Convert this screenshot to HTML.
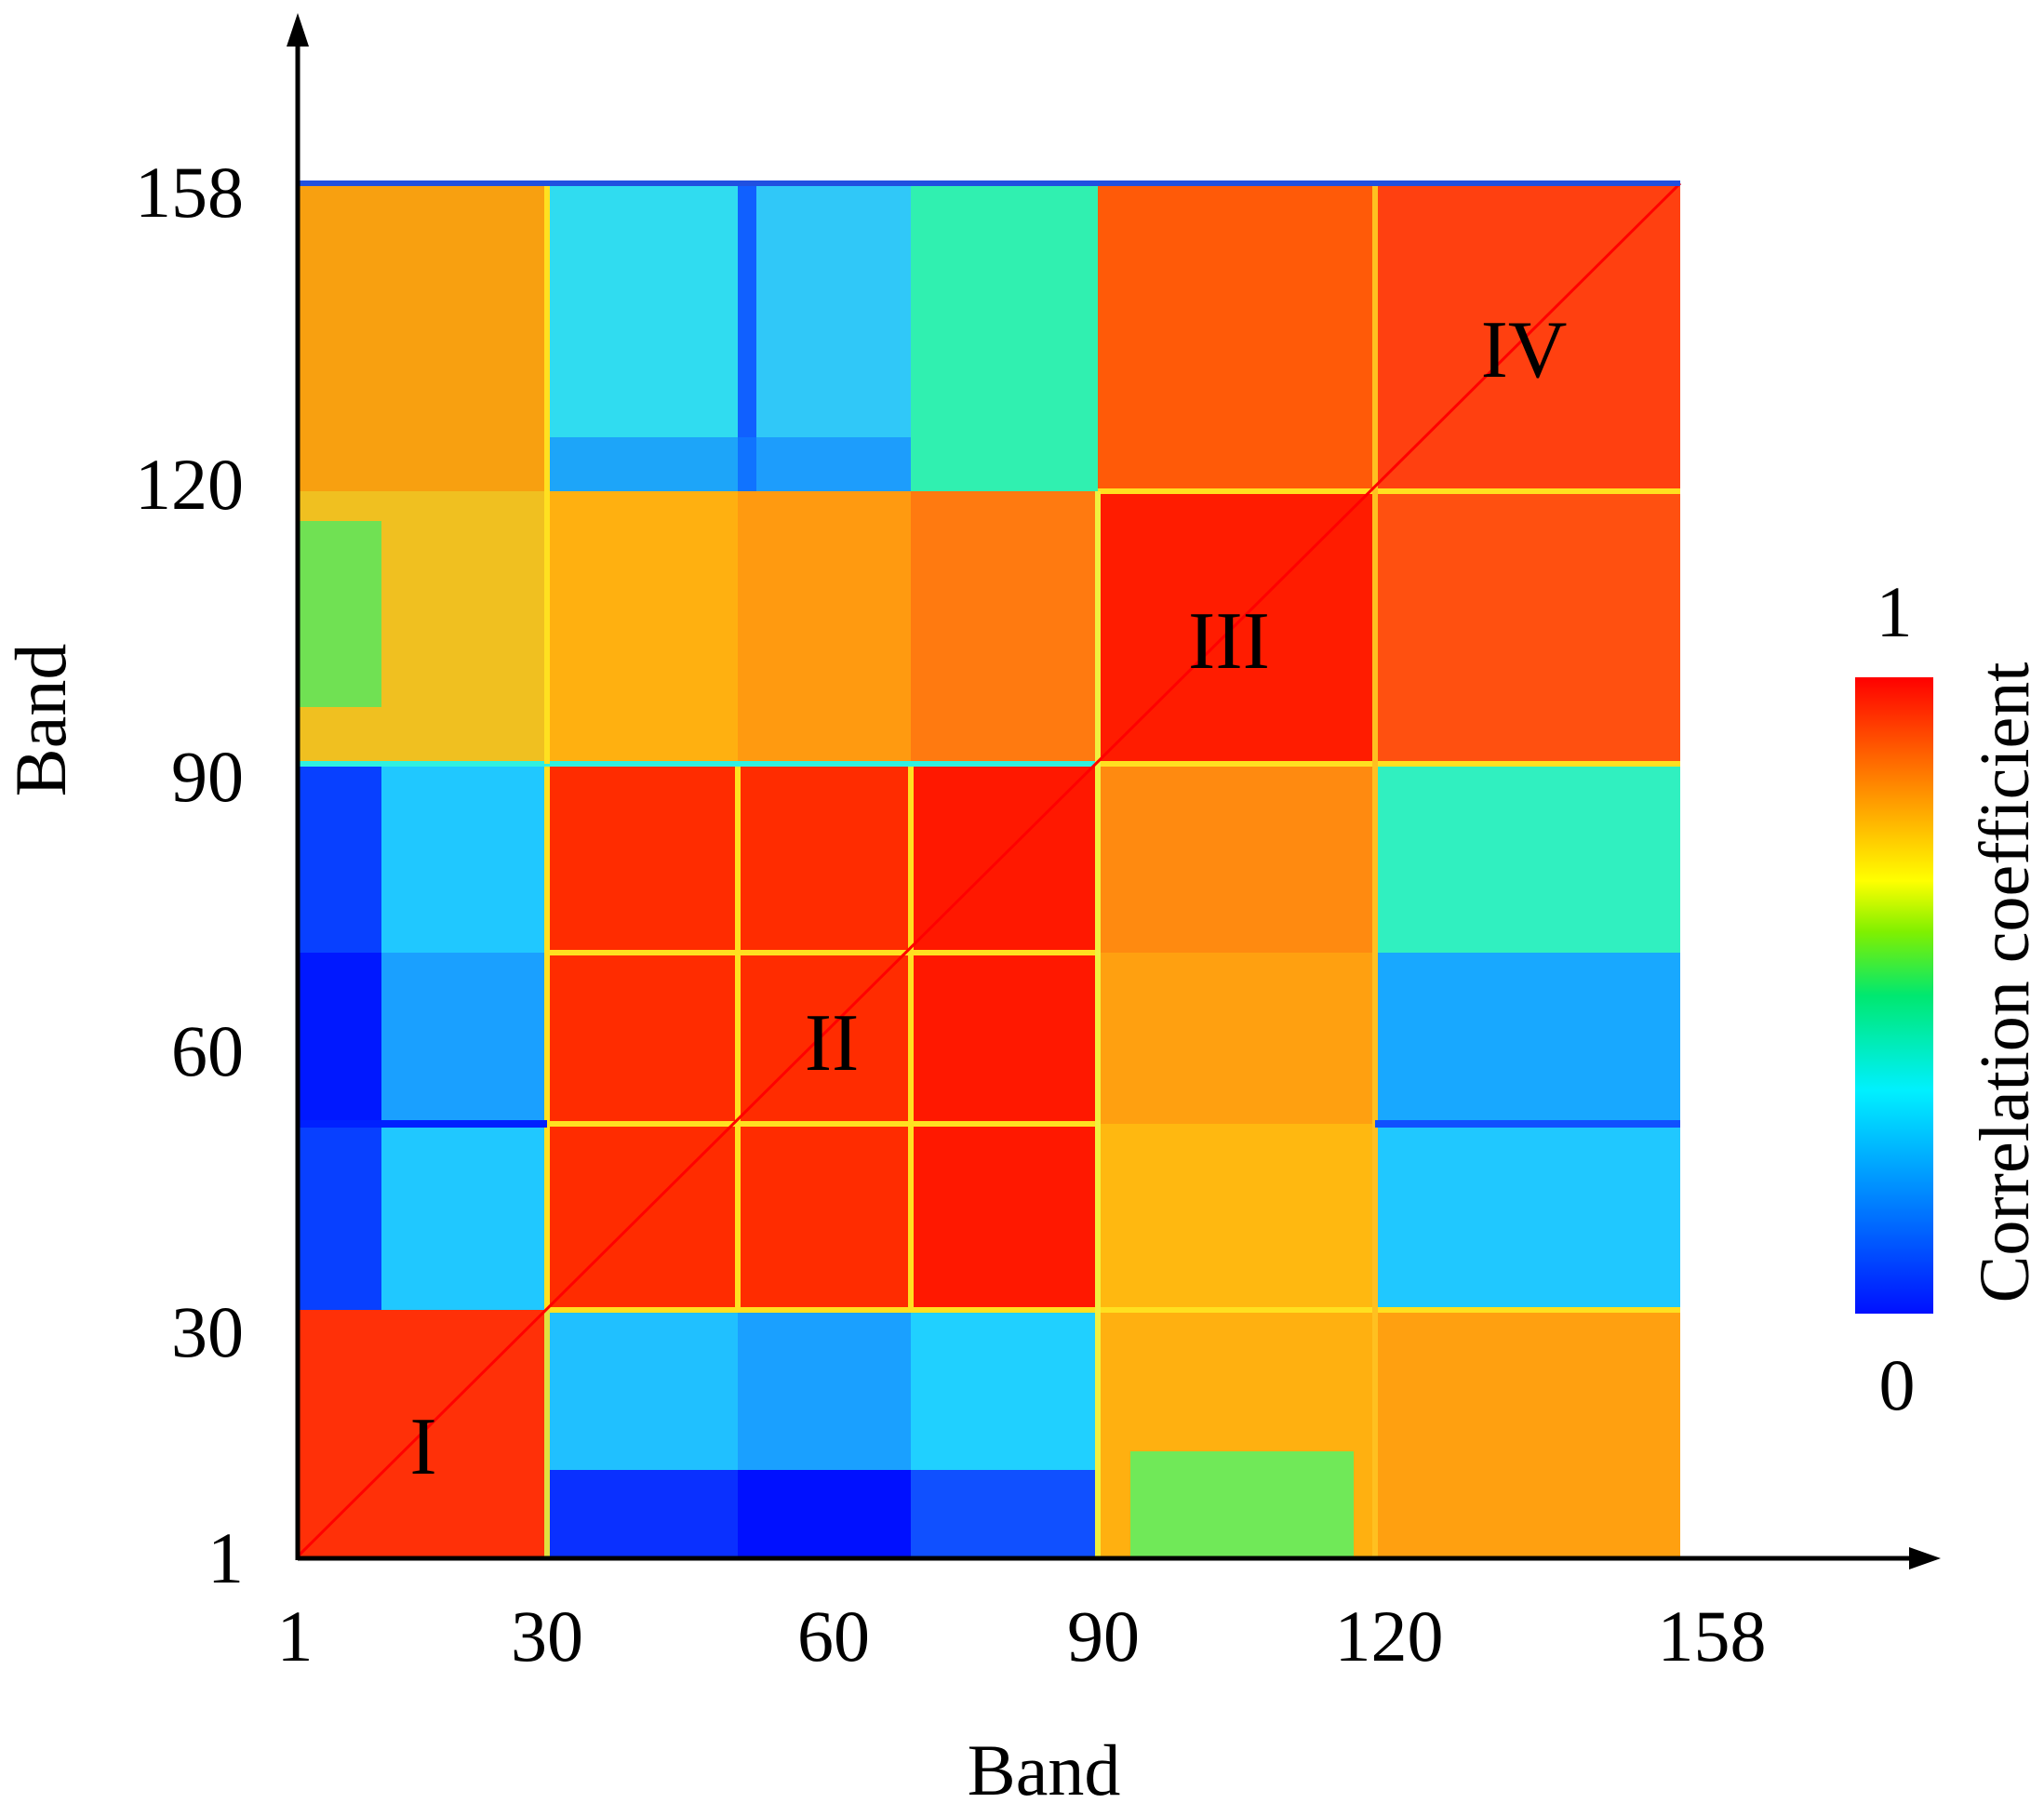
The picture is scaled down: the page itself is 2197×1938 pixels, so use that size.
<!DOCTYPE html>
<html><head><meta charset="utf-8"><style>
html,body{margin:0;padding:0;background:#fff;}
svg{display:block;}
text{font-family:"Liberation Serif",serif;fill:#000;}
</style></head><body>
<svg width="2197" height="1938" viewBox="0 0 2197 1938" xmlns="http://www.w3.org/2000/svg">
<defs>
<linearGradient id="cb" x1="0" y1="1" x2="0" y2="0">
<stop offset="0" stop-color="#0010ff"/>
<stop offset="0.2" stop-color="#0090ff"/>
<stop offset="0.35" stop-color="#00f0ff"/>
<stop offset="0.5" stop-color="#00e870"/>
<stop offset="0.6" stop-color="#80f000"/>
<stop offset="0.68" stop-color="#ffff00"/>
<stop offset="0.82" stop-color="#ff9000"/>
<stop offset="1" stop-color="#ff0000"/>
</linearGradient>
</defs>
<g>
<rect x="320" y="197" width="268" height="331" fill="#f8a010"/>
<rect x="588" y="197" width="205" height="331" fill="#30dcf0"/>
<rect x="793" y="197" width="186" height="331" fill="#30c8f8"/>
<rect x="793" y="197" width="20" height="331" fill="#1060ff"/>
<rect x="979" y="197" width="201" height="331" fill="#30f0b0"/>
<rect x="1180" y="197" width="298" height="331" fill="#ff5a08"/>
<rect x="1478" y="197" width="328" height="331" fill="#ff4010"/>
<rect x="588" y="470" width="391" height="58" fill="#1080ff" opacity="0.6"/>
<rect x="320" y="528" width="268" height="293" fill="#f0c020"/>
<rect x="320" y="560" width="90" height="200" fill="#50e860" opacity="0.8"/>
<rect x="588" y="528" width="205" height="293" fill="#ffb010"/>
<rect x="793" y="528" width="186" height="293" fill="#ff9a10"/>
<rect x="979" y="528" width="201" height="293" fill="#ff7a10"/>
<rect x="1180" y="528" width="298" height="293" fill="#ff1c00"/>
<rect x="1478" y="528" width="328" height="293" fill="#ff5010"/>
<rect x="320" y="821" width="268" height="587" fill="#20c8ff"/>
<rect x="320" y="821" width="90" height="587" fill="#0840ff"/>
<rect x="320" y="1024" width="90" height="184" fill="#0018ff"/>
<rect x="410" y="1024" width="178" height="184" fill="#1aa0ff"/>
<rect x="588" y="821" width="391" height="587" fill="#ff2c00"/>
<rect x="979" y="821" width="201" height="587" fill="#ff1800"/>
<rect x="1180" y="821" width="298" height="203" fill="#ff8a10"/>
<rect x="1180" y="1024" width="298" height="184" fill="#ffa010"/>
<rect x="1180" y="1208" width="298" height="200" fill="#ffb810"/>
<rect x="1478" y="821" width="328" height="203" fill="#30f0c0"/>
<rect x="1478" y="1024" width="328" height="184" fill="#18a8ff"/>
<rect x="1478" y="1208" width="328" height="200" fill="#20c8ff"/>
<rect x="320" y="1408" width="268" height="265" fill="#ff3008"/>
<rect x="588" y="1408" width="205" height="265" fill="#20c0ff"/>
<rect x="793" y="1408" width="186" height="265" fill="#1aa0ff"/>
<rect x="979" y="1408" width="201" height="265" fill="#20d0ff"/>
<rect x="588" y="1580" width="391" height="93" fill="#0a30ff"/>
<rect x="793" y="1580" width="186" height="93" fill="#0010ff"/>
<rect x="979" y="1580" width="201" height="93" fill="#1050ff"/>
<rect x="1180" y="1408" width="298" height="265" fill="#ffb010"/>
<rect x="1215" y="1560" width="240" height="113" fill="#60f060" opacity="0.9"/>
<rect x="1478" y="1408" width="328" height="265" fill="#ffa010"/>
<g stroke="#ffe020" stroke-width="6" fill="none">
<line x1="588" y1="1024" x2="1180" y2="1024"/>
<line x1="588" y1="1208" x2="1180" y2="1208"/>
<line x1="588" y1="1408" x2="1806" y2="1408"/>
<line x1="588" y1="821" x2="588" y2="1408"/>
<line x1="793" y1="821" x2="793" y2="1408"/>
<line x1="979" y1="821" x2="979" y2="1408"/>
<line x1="1180" y1="528" x2="1806" y2="528"/>
<line x1="320" y1="821" x2="1180" y2="821" stroke="#30f0e0"/>
<line x1="1180" y1="821" x2="1806" y2="821"/>
<line x1="588" y1="197" x2="588" y2="821"/>
<line x1="1180" y1="528" x2="1180" y2="1673" stroke="#f0f040"/>
<line x1="1478" y1="197" x2="1478" y2="1673" stroke="#ffc020"/>
<line x1="588" y1="1408" x2="588" y2="1673" stroke="#e0e040"/>
</g>
<line x1="1478" y1="1208" x2="1806" y2="1208" stroke="#1050ff" stroke-width="8"/>
<line x1="320" y1="1208" x2="588" y2="1208" stroke="#0020ff" stroke-width="8"/>
<line x1="320" y1="1673" x2="1806" y2="197" stroke="#ff0000" stroke-width="3"/>
<line x1="320" y1="197" x2="1806" y2="197" stroke="#2050e0" stroke-width="6"/>
</g>
<line x1="320" y1="1675" x2="2060" y2="1675" stroke="#000" stroke-width="5"/>
<polygon points="2086,1675 2052,1663 2052,1687" fill="#000"/>
<line x1="320" y1="1677" x2="320" y2="45" stroke="#000" stroke-width="5"/>
<polygon points="320,14 308,50 332,50" fill="#000"/>
<g font-size="88" text-anchor="middle">
<text x="455" y="1584">I</text>
<text x="894" y="1150">II</text>
<text x="1321" y="718">III</text>
<text x="1638" y="405">IV</text>
</g>
<g font-size="78" text-anchor="end">
<text x="262" y="233">158</text>
<text x="262" y="547">120</text>
<text x="262" y="861">90</text>
<text x="262" y="1156">60</text>
<text x="262" y="1458">30</text>
<text x="262" y="1701">1</text>
</g>
<g font-size="78" text-anchor="middle">
<text x="317" y="1785">1</text>
<text x="588" y="1785">30</text>
<text x="896" y="1785">60</text>
<text x="1186" y="1785">90</text>
<text x="1493" y="1785">120</text>
<text x="1840" y="1785">158</text>
<text x="1122" y="1929">Band</text>
</g>
<text font-size="78" text-anchor="middle" transform="translate(70,774) rotate(-90)">Band</text>
<rect x="1994" y="728" width="84" height="684" fill="url(#cb)"/>
<text x="2036" y="684" font-size="78" text-anchor="middle">1</text>
<text x="2039" y="1515" font-size="78" text-anchor="middle">0</text>
<text font-size="76" text-anchor="middle" transform="translate(2180,1056) rotate(-90)">Correlation coefficient</text>
</svg>
</body></html>
